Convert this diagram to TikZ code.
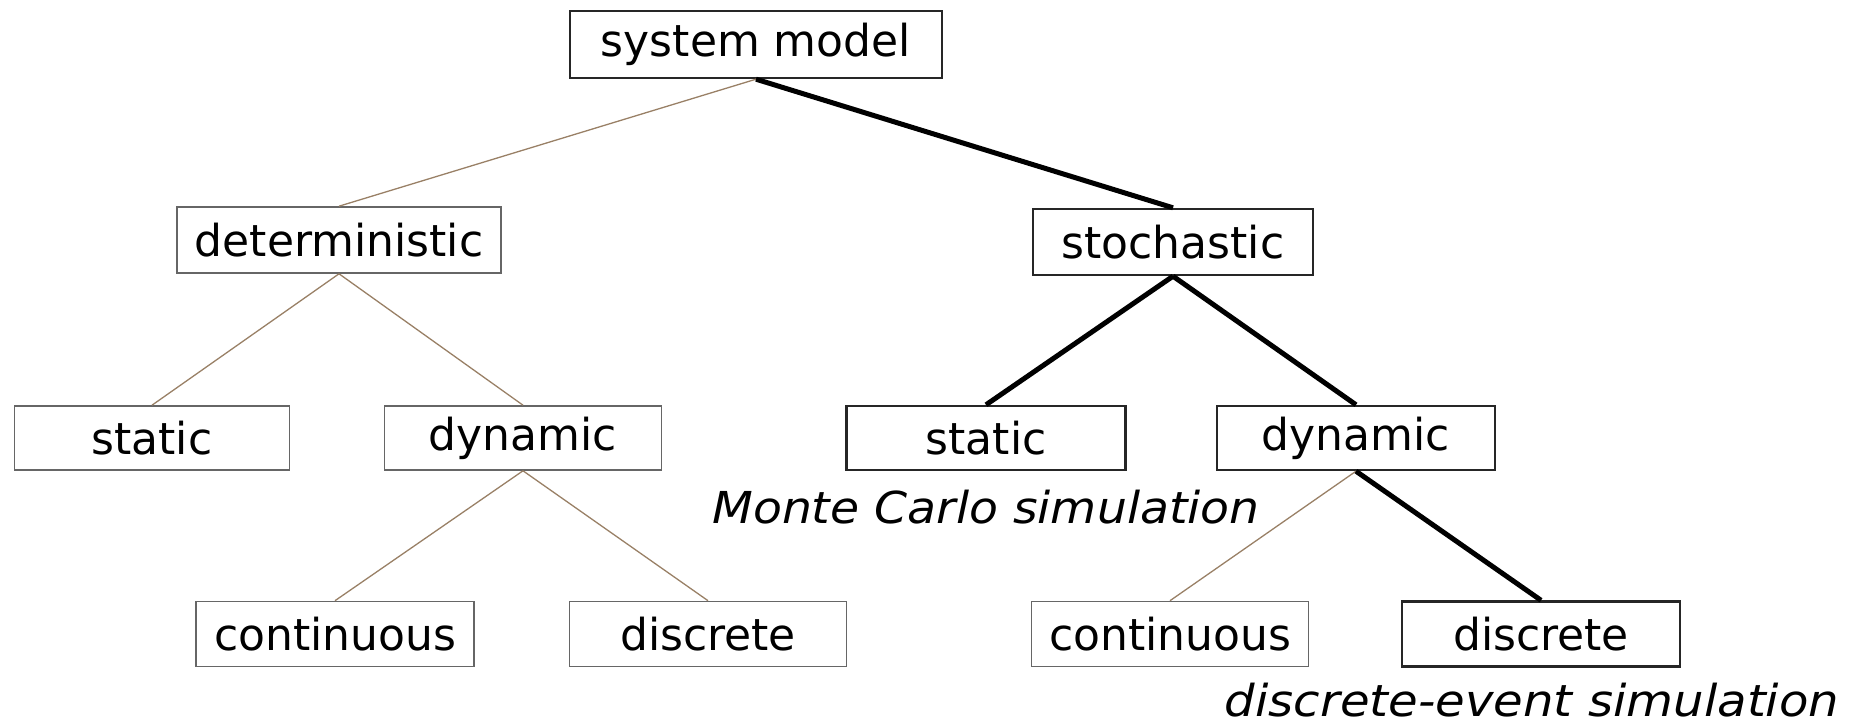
\documentclass[tikz,border=0pt]{standalone}
\usepackage{fontspec}
\setmainfont{DejaVu Sans}
\begin{document}
\begin{tikzpicture}[x=1pt,y=-1pt,
  box/.style={draw=black!60,line width=1.6pt,fill=white,inner sep=0pt,
    font=\fontsize{44}{50}\selectfont},
  hbox/.style={box,draw=black!85,line width=2.4pt},
  thin/.style={draw=brown!40!gray,line width=1.3pt},
  thick/.style={draw=black,line width=5pt},
  note/.style={font=\fontsize{44}{50}\selectfont\itshape,inner sep=0pt,anchor=base}]
\useasboundingbox (0,0) rectangle (1858,727);
% top level
\node[hbox,minimum width=372pt,minimum height=67pt] (sys) at (756,44.5) {system model};
% second level
\node[box,minimum width=324pt,minimum height=66pt] (det) at (339,240) {deterministic};
\node[hbox,minimum width=280pt,minimum height=66pt] (sto) at (1173,242) {stochastic};
% third level
\node[box,minimum width=275pt,minimum height=64pt] (lst) at (152,438) {static};
\node[box,minimum width=277pt,minimum height=64pt] (ldy) at (523,438) {dynamic};
\node[hbox,minimum width=279pt,minimum height=64pt] (rst) at (986,438) {static};
\node[hbox,minimum width=278pt,minimum height=64pt] (rdy) at (1356,438) {dynamic};
% fourth level
\node[box,minimum width=278pt,minimum height=65pt] (lco) at (335,634) {continuous};
\node[box,minimum width=277pt,minimum height=65pt] (ldi) at (708,634) {discrete};
\node[box,minimum width=277pt,minimum height=65pt] (rco) at (1170,634) {continuous};
\node[hbox,minimum width=278pt,minimum height=65pt] (rdi) at (1541,634) {discrete};
% annotations
\node[note] (mc) at (986,523) {\scalebox{1.075}[1]{Monte Carlo simulation}};
\node[note] (des) at (1532,716) {\scalebox{1.095}[1]{discrete-event simulation}};
% connectors
\draw[thin] (sys.south) -- (det.north);
\draw[thick] (sys.south) -- (sto.north);
\draw[thin] (det.south) -- (lst.north);
\draw[thin] (det.south) -- (ldy.north);
\draw[thin] (ldy.south) -- (lco.north);
\draw[thin] (ldy.south) -- (ldi.north);
\draw[thick] (sto.south) -- (rst.north);
\draw[thick] (sto.south) -- (rdy.north);
\draw[thin] (rdy.south) -- (rco.north);
\draw[thick] (rdy.south) -- (rdi.north);
\end{tikzpicture}
\end{document}
